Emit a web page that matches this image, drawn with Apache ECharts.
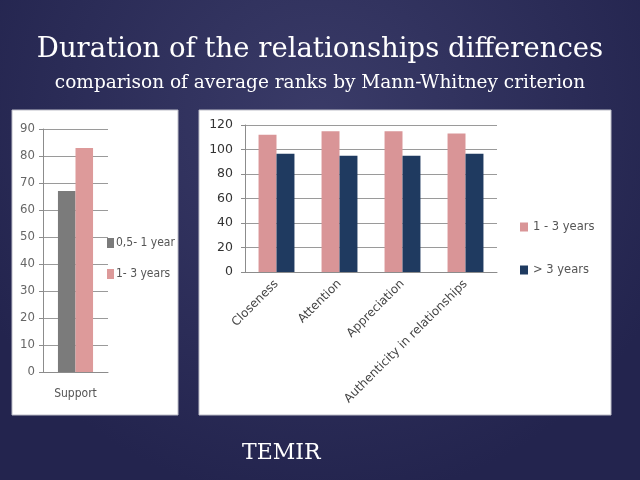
<!DOCTYPE html>
<html><head><meta charset="utf-8">
<script src="https://cdn.jsdelivr.net/npm/echarts@6/dist/echarts.min.js"></script>
<style>html,body{margin:0;padding:0;background:#2b2c58;}#c{width:640px;height:480px;}</style>
</head><body><div id="c"></div>
<script>
// Left chart data
const leftCategories = ['Support'];
const leftNames = ['0,5- 1 year', '1- 3 years'];
const leftShort = [67];
const leftMid = [83];
const leftTicks = [0, 90, 10];
// Right chart data
const rightCategories = ['Closeness', 'Attention', 'Appreciation', 'Authenticity in relationships'];
const rightNames = ['1 - 3 years', '> 3 years'];
const rightMid = [112, 115, 115, 113];
const rightLong = [96.5, 95, 95, 96.5];
const rightTicks = [0, 120, 20];

const chart = echarts.init(document.getElementById('c'));
const axisGray = '#8c8c8c';
const leftFont = 'DejaVu Sans Condensed, DejaVu Sans, sans-serif';
const rightFont = 'DejaVu Sans, Verdana, sans-serif';
const serif = 'DejaVu Serif, Liberation Serif, serif';
chart.setOption({
  animation: false,
  backgroundColor: 'transparent',
  graphic: [
    { type: 'rect', z: -10, shape: { x: 0, y: 0, width: 640, height: 480 },
      style: { fill: { type: 'radial', x: 0.5, y: 0.25, r: 0.8,
        colorStops: [{ offset: 0, color: '#3a3b68' }, { offset: 1, color: '#23244e' }] } } },
    { type: 'rect', z: -5, shape: { x: 12, y: 110, width: 166, height: 305 },
      style: { fill: '#ffffff', stroke: '#bdbdc8', lineWidth: 1 } },
    { type: 'rect', z: -5, shape: { x: 199, y: 110, width: 412, height: 305 },
      style: { fill: '#ffffff', stroke: '#bdbdc8', lineWidth: 1 } }
  ],
  title: [
    { text: 'Duration of the relationships differences', left: 'center', top: 31,
      textStyle: { color: '#ffffff', fontFamily: serif, fontSize: 27.5, fontWeight: 'normal' } },
    { text: 'comparison of average ranks by Mann-Whitney criterion', left: 'center', top: 69,
      textStyle: { color: '#ffffff', fontFamily: serif, fontSize: 18.5, fontWeight: 'normal' } },
    { text: 'TEMIR', left: 237, top: 437,
      textStyle: { color: '#ffffff', fontFamily: serif, fontSize: 22, fontWeight: 'normal' } }
  ],
  legend: [
    { orient: 'vertical', left: 102, top: 232, itemWidth: 7, itemHeight: 10, itemGap: 19,
      data: leftNames, icon: 'rect',
      textStyle: { color: '#555', fontFamily: leftFont, fontSize: 12, padding: [0, 0, 0, -3] } },
    { orient: 'vertical', left: 515, top: 216, itemWidth: 8, itemHeight: 9, itemGap: 31,
      data: rightNames, icon: 'rect',
      textStyle: { color: '#555', fontFamily: rightFont, fontSize: 11.5 } }
  ],
  grid: [
    { left: 43, top: 129, width: 65, height: 243 },
    { left: 245, top: 125, width: 252, height: 147 }
  ],
  xAxis: [
    { type: 'category', gridIndex: 0, data: leftCategories,
      axisLine: { lineStyle: { color: axisGray } }, axisTick: { lineStyle: { color: axisGray }, length: 4 },
      axisLabel: { color: '#555', fontFamily: leftFont, fontSize: 12, margin: 16 } },
    { type: 'category', gridIndex: 1, data: rightCategories,
      axisLine: { lineStyle: { color: axisGray } }, axisTick: { lineStyle: { color: axisGray }, length: 4 },
      axisLabel: { color: '#444', fontFamily: rightFont, fontSize: 12, rotate: 45, margin: 10, interval: 0 } }
  ],
  yAxis: [
    { type: 'value', gridIndex: 0, min: leftTicks[0], max: leftTicks[1], interval: leftTicks[2],
      axisLine: { show: true, lineStyle: { color: axisGray } }, axisTick: { show: true, length: 4, lineStyle: { color: axisGray } },
      splitLine: { lineStyle: { color: '#9a9a9a' } },
      axisLabel: { color: '#666', fontFamily: leftFont, fontSize: 13, margin: 8 } },
    { type: 'value', gridIndex: 1, min: rightTicks[0], max: rightTicks[1], interval: rightTicks[2],
      axisLine: { show: true, lineStyle: { color: axisGray } }, axisTick: { show: true, length: 4, lineStyle: { color: axisGray } },
      splitLine: { lineStyle: { color: '#9a9a9a' } },
      axisLabel: { color: '#333', fontFamily: rightFont, fontSize: 12.5, margin: 12 } }
  ],
  series: [
    { name: leftNames[0], type: 'bar', xAxisIndex: 0, yAxisIndex: 0, data: leftShort,
      barGap: '0%', barCategoryGap: '46%', itemStyle: { color: '#7b7b7b' } },
    { name: leftNames[1], type: 'bar', xAxisIndex: 0, yAxisIndex: 0, data: leftMid,
      barGap: '0%', barCategoryGap: '46%', itemStyle: { color: '#dd9a9a' } },
    { name: rightNames[0], type: 'bar', xAxisIndex: 1, yAxisIndex: 1, data: rightMid,
      barGap: '0%', barCategoryGap: '43%', itemStyle: { color: '#d99597' } },
    { name: rightNames[1], type: 'bar', xAxisIndex: 1, yAxisIndex: 1, data: rightLong,
      barGap: '0%', barCategoryGap: '43%', itemStyle: { color: '#1f3a60' } }
  ]
});
</script></body></html>
